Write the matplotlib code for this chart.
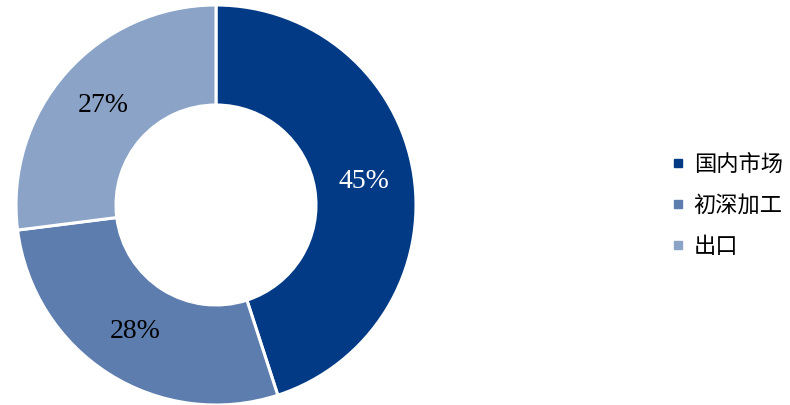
import matplotlib
matplotlib.use("Agg")
import matplotlib.pyplot as plt
from matplotlib.lines import Line2D

categories = ["国内市场", "初深加工", "出口"]
values = [45, 28, 27]
colors = ["#023A85", "#5C7DAE", "#8AA3C7"]
label_colors = ["white", "black", "black"]

fig = plt.figure(figsize=(7.9, 4.05), dpi=100)
ax = fig.add_axes([16/790, 0/405, 400/790, 400/405])
wedges, texts, autotexts = ax.pie(
    values, colors=colors, startangle=90, counterclock=False,
    radius=1.0, autopct=lambda p: f"{p:.0f}%", pctdistance=0.75,
    wedgeprops=dict(width=0.5, edgecolor="white", linewidth=2.2))
for t, c in zip(autotexts, label_colors):
    t.set_color(c)
    t.set_fontfamily(["Liberation Serif", "DejaVu Serif"])
    t.set_fontsize(20)
ax.set_xlim(-1.0, 1.0)
ax.set_ylim(-1.0, 1.0)
ax.set_aspect("equal")
ax.axis("off")

handles = [Line2D([0], [0], marker="s", linestyle="none", markersize=6,
                  markerfacecolor=c, markeredgecolor=c) for c in colors]
fig.legend(handles, categories, loc="center left", bbox_to_anchor=(0.826, 0.493),
           frameon=False, handlelength=0.5, handletextpad=0.45, labelspacing=0.8,
           prop=dict(family=["Noto Sans CJK SC", "DejaVu Sans"], size=16, weight="light"))
fig.savefig("out.png", dpi=100)
